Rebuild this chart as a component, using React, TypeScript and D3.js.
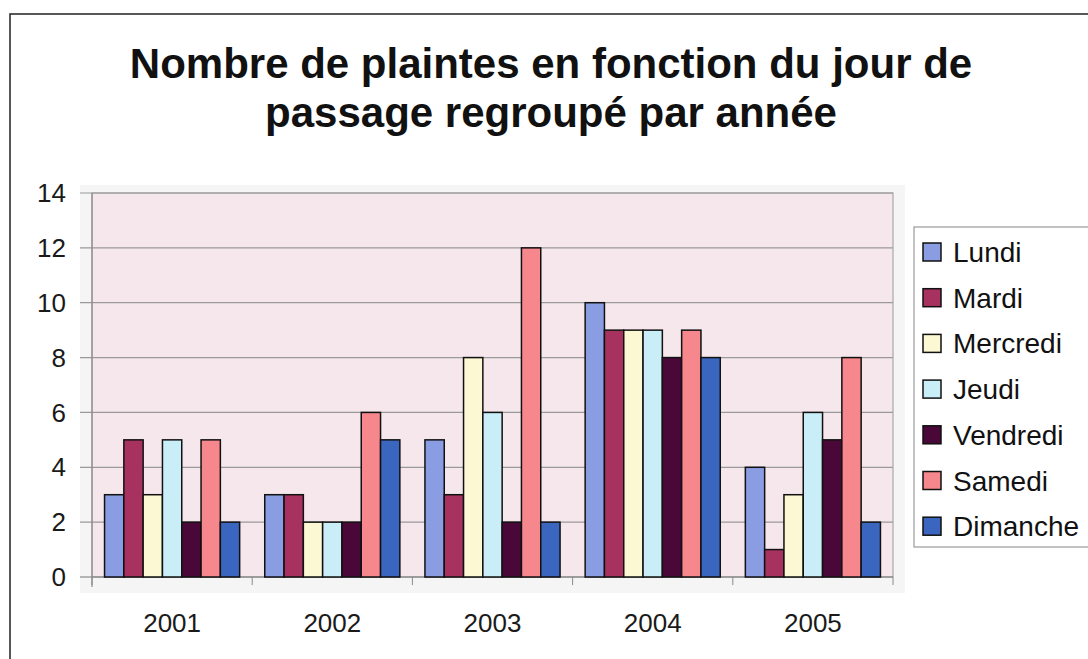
import * as d3 from "d3";

// Nombre de plaintes par jour de passage, regroupé par année
const YEARS = ["2001", "2002", "2003", "2004", "2005"];
const DAYS = ["Lundi", "Mardi", "Mercredi", "Jeudi", "Vendredi", "Samedi", "Dimanche"];
const DAY_COLORS = ["#8b9de2", "#a8325f", "#fbf8d3", "#caeef7", "#4a0838", "#f6878c", "#3b66c0"];

const LUNDI = [3, 3, 5, 10, 4];
const MARDI = [5, 3, 3, 9, 1];
const MERCREDI = [3, 2, 8, 9, 3];
const JEUDI = [5, 2, 6, 9, 6];
const VENDREDI = [2, 2, 2, 8, 5];
const SAMEDI = [5, 6, 12, 9, 8];
const DIMANCHE = [2, 5, 2, 8, 2];
const SERIES = [LUNDI, MARDI, MERCREDI, JEUDI, VENDREDI, SAMEDI, DIMANCHE];

const Y_TICKS = [0, 2, 4, 6, 8, 10, 12, 14];
const TITLE = ["Nombre de plaintes en fonction du jour de", "passage regroupé par année"];

const W = 1088;
const H = 659;
const PLOT = { left: 92, right: 893, top: 193, bottom: 577 };
const FONT = "Arial, 'Liberation Sans', Helvetica, sans-serif";

export default function App() {
  const x = d3.scaleBand<string>().domain(YEARS).range([PLOT.left, PLOT.right]);
  const xInner = d3
    .scaleBand<string>()
    .domain(DAYS)
    .range([0, x.bandwidth()])
    .paddingInner(0)
    .paddingOuter(0.65);
  const y = d3.scaleLinear().domain([0, 14]).range([PLOT.bottom, PLOT.top]);

  // tick marks between categories on the x axis
  const xBounds = YEARS.map((yr) => x(yr)!).concat([PLOT.right]);

  return (
    <svg
      width={W}
      height={H}
      style={{ position: "absolute", left: 0, top: 0, background: "#fff" }}
      fontFamily={FONT}
    >
      {/* outer chart frame */}
      <path d={`M10,${H} V14 H${W}`} fill="none" stroke="#222" strokeWidth={1.5} />

      {/* title */}
      {TITLE.map((line, i) => (
        <text
          key={i}
          x={551}
          y={78 + i * 49}
          textAnchor="middle"
          fontSize={42}
          fontWeight="bold"
          fill="#111"
        >
          {line}
        </text>
      ))}

      {/* faint backdrop round the plot */}
      <rect x={80} y={185} width={825} height={408} fill="#f5f5f5" />

      {/* plot area */}
      <rect
        x={PLOT.left}
        y={PLOT.top}
        width={PLOT.right - PLOT.left}
        height={PLOT.bottom - PLOT.top}
        fill="#f6e7ed"
        stroke="#9a9a9a"
        strokeWidth={1}
      />

      {/* grid + y ticks */}
      {Y_TICKS.map((t) => (
        <g key={t}>
          <line
            x1={80}
            x2={PLOT.right}
            y1={y(t)}
            y2={y(t)}
            stroke={t === 0 ? "#777" : "#9a9a9a"}
            strokeWidth={1.2}
          />
          <text x={66} y={y(t)} dy="0.35em" textAnchor="end" fontSize={26} fill="#1a1a1a">
            {t}
          </text>
        </g>
      ))}
      <line x1={PLOT.left} x2={PLOT.left} y1={PLOT.top} y2={PLOT.bottom + 10} stroke="#8a8a8a" strokeWidth={1.2} />
      {xBounds.map((bx, i) => (
        <line key={i} x1={bx} x2={bx} y1={PLOT.bottom} y2={PLOT.bottom + 8} stroke="#8a8a8a" strokeWidth={1} />
      ))}

      {/* bars */}
      {YEARS.map((yr, yi) => (
        <g key={yr} transform={`translate(${x(yr)},0)`}>
          {DAYS.map((day, di) => {
            const v = SERIES[di][yi];
            return (
              <rect
                key={day}
                x={xInner(day)}
                y={y(v)}
                width={xInner.bandwidth()}
                height={y(0) - y(v)}
                fill={DAY_COLORS[di]}
                stroke="#111"
                strokeWidth={1.5}
              />
            );
          })}
        </g>
      ))}

      {/* x labels */}
      {YEARS.map((yr) => (
        <text
          key={yr}
          x={x(yr)! + x.bandwidth() / 2}
          y={632}
          textAnchor="middle"
          fontSize={26}
          fill="#1a1a1a"
        >
          {yr}
        </text>
      ))}

      {/* legend */}
      <rect x={914} y={227} width={200} height={320} fill="#fff" stroke="#999" strokeWidth={1.2} />
      {DAYS.map((day, i) => {
        const cy = 252 + i * 45.7;
        return (
          <g key={day}>
            <rect x={923} y={cy - 9} width={18} height={18} fill={DAY_COLORS[i]} stroke="#111" strokeWidth={1.5} />
            <text x={953} y={cy} dy="0.36em" fontSize={28} fill="#111">
              {day}
            </text>
          </g>
        );
      })}
    </svg>
  );
}
